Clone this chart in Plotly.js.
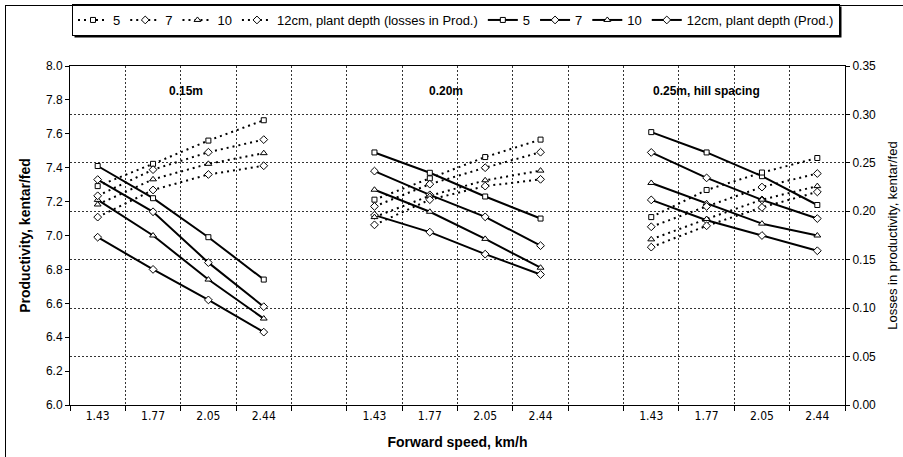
<!DOCTYPE html>
<html>
<head>
<meta charset="utf-8">
<script src="https://cdn.plot.ly/plotly-3.0.1.min.js"></script>
<style>
  html, body { margin: 0; padding: 0; background: #fff; }
  #chart { width: 903px; height: 457px; }
  #frame { position: absolute; left: 5px; top: 5px; width: 905px; height: 460px; border: 1px solid #000; pointer-events: none; }
</style>
</head>
<body>
<div id="chart"></div>
<div id="frame"></div>
<script>
// ---- data ----
const speeds = ["1.43", "1.77", "2.05", "2.44"];
const spacings = ["0.15m", "0.20m", "0.25m, hill spacing"];
const depthNames = ["5", "7", "10", "12cm, plant depth"];

// productivity, kentar/fed (left axis) — 4 speeds × 3 hill spacings
const prod5  = [7.41, 7.22, 6.99, 6.74,  7.49, 7.37, 7.23, 7.10,  7.61, 7.49, 7.35, 7.18];
const prod7  = [7.33, 7.14, 6.84, 6.58,  7.38, 7.24, 7.11, 6.94,  7.49, 7.34, 7.21, 7.10];
const prod10 = [7.21, 7.00, 6.74, 6.51,  7.27, 7.14, 6.98, 6.81,  7.31, 7.19, 7.07, 7.00];
const prod12 = [6.99, 6.80, 6.62, 6.43,  7.12, 7.02, 6.89, 6.77,  7.21, 7.09, 7.00, 6.91];

// losses in productivity, kentar/fed (right axis)
const loss5  = [0.226, 0.249, 0.273, 0.294,  0.212, 0.234, 0.256, 0.274,  0.194, 0.222, 0.240, 0.255];
const loss7  = [0.216, 0.243, 0.261, 0.274,  0.205, 0.228, 0.245, 0.261,  0.184, 0.205, 0.225, 0.239];
const loss10 = [0.207, 0.233, 0.249, 0.260,  0.194, 0.216, 0.232, 0.242,  0.171, 0.192, 0.212, 0.226];
const loss12 = [0.194, 0.222, 0.238, 0.247,  0.186, 0.212, 0.226, 0.233,  0.163, 0.185, 0.204, 0.220];

// ---- build positions: 14 category slots (4 speeds, 1 blank, 4, 1 blank, 4) ----
const slotsPerGroup = speeds.length + 1;
const nSlots = spacings.length * slotsPerGroup - 1;
function seriesXY(vals) {
  const x = [], y = [];
  spacings.forEach((s, g) => {
    speeds.forEach((sp, i) => {
      x.push(g * slotsPerGroup + i + 0.5);
      y.push(vals[g * speeds.length + i]);
    });
    if (g < spacings.length - 1) { x.push(null); y.push(null); }
  });
  return {x, y};
}
const tickCenters = [], tickLabels = [];
spacings.forEach((s, g) => speeds.forEach((sp, i) => {
  tickCenters.push(g * slotsPerGroup + i + 0.5);
  tickLabels.push(sp);
}));
const boundaries = [];
for (let k = 0; k <= nSlots; k++) boundaries.push(k);

const symbols = ["square", "diamond", "triangle-up", "diamond"];
const sizes = [5, 6, 6, 6];
const lossSets = [loss5, loss7, loss10, loss12];
const prodSets = [prod5, prod7, prod10, prod12];

const traces = [];
lossSets.forEach((vals, k) => {
  const p = seriesXY(vals);
  traces.push({
    type: "scatter", mode: "lines+markers", x: p.x, y: p.y, yaxis: "y2",
    name: depthNames[k] + (k === 3 ? " (losses in Prod.)" : ""),
    connectgaps: false,
    line: {color: "#000", width: 2, dash: "2px,4px"},
    marker: {symbol: symbols[k], size: sizes[k], color: "#fff", line: {color: "#000", width: 1}}
  });
});
prodSets.forEach((vals, k) => {
  const p = seriesXY(vals);
  traces.push({
    type: "scatter", mode: "lines+markers", x: p.x, y: p.y, yaxis: "y",
    name: depthNames[k] + (k === 3 ? " (Prod.)" : ""),
    connectgaps: false,
    line: {color: "#000", width: 2},
    marker: {symbol: symbols[k], size: sizes[k], color: "#fff", line: {color: "#000", width: 1}}
  });
});

const gridStyle = {color: "#333", dash: "2px,2px"};
const labelFont = {family: "Liberation Sans, Arial, sans-serif", size: 12, color: "#000"};
const M = {l: 70, r: 58, t: 66, b: 52};

const layout = {
  width: 903, height: 457,
  margin: M,
  paper_bgcolor: "#fff", plot_bgcolor: "#fff",
  showlegend: true,
  legend: {
    orientation: "h", x: 72 / 903, xanchor: "left", y: 1 - 4 / 457, yanchor: "top",
    xref: "container", yref: "container",
    bordercolor: "#000", borderwidth: 1, bgcolor: "#fff",
    font: {family: "Liberation Sans, Arial, sans-serif", size: 13, color: "#000"},
    itemwidth: 30, tracegroupgap: 0
  },
  xaxis: {
    range: [0, nSlots], tickmode: "array", tickvals: tickCenters, ticktext: tickLabels,
    ticks: "", showgrid: false, zeroline: false,
    showline: true, linecolor: "#000", linewidth: 1, mirror: true,
    tickfont: {family: "Liberation Sans Narrow, Arial Narrow, DejaVu Sans Condensed, sans-serif", size: 12, color: "#000"},
    minor: {tickmode: "array", tickvals: boundaries, ticks: "outside", ticklen: 5, tickcolor: "#000",
            showgrid: true, gridcolor: gridStyle.color, griddash: gridStyle.dash, gridwidth: 1},
    title: {text: "<b>Forward speed, km/h</b>", font: {family: "Liberation Sans, Arial, sans-serif", size: 14, color: "#000"}, standoff: 14}
  },
  yaxis: {
    range: [6, 8], dtick: 0.2, tickformat: ".1f", ticks: "outside", ticklen: 4, tickcolor: "#000",
    showgrid: false, zeroline: false, showline: true, linecolor: "#000", linewidth: 1,
    tickfont: labelFont,
    title: {text: "<b>Productivity, kentar/fed</b>", font: {family: "Liberation Sans, Arial, sans-serif", size: 14, color: "#000"}, standoff: 12}
  },
  yaxis2: {
    overlaying: "y", side: "right", range: [0, 0.35], dtick: 0.05, tickformat: ".2f",
    ticks: "outside", ticklen: 4, tickcolor: "#000",
    showgrid: true, gridcolor: gridStyle.color, griddash: gridStyle.dash, gridwidth: 1,
    zeroline: false, showline: true, linecolor: "#000", linewidth: 1,
    tickfont: labelFont,
    title: {text: "Losses in productivity, kentar/fed", font: {family: "Liberation Sans, Arial, sans-serif", size: 13, color: "#000"}, standoff: 12}
  },
  annotations: spacings.map((s, g) => ({
    text: "<b>" + s + "</b>", xref: "x", yref: "paper",
    x: [1.75, 6.45, 10.5][g], y: 0.925, xanchor: "left", yanchor: "middle", showarrow: false,
    font: {family: "Liberation Sans, Arial, sans-serif", size: 12, color: "#000"}
  }))
};

Plotly.newPlot("chart", traces, layout, {displayModeBar: false, staticPlot: true}).then(gd => {
  // drop shadow behind the legend box (as in the spreadsheet legend)
  const bg = gd.querySelector(".legend .bg");
  if (!bg) return;
  const r = bg.getBoundingClientRect();
  const c = gd.getBoundingClientRect();
  const pw = 903 - M.l - M.r, ph = 457 - M.t - M.b;
  const px = v => (v - c.left - M.l) / pw;
  const py = v => 1 - (v - c.top - M.t) / ph;
  Plotly.relayout(gd, {shapes: [{
    type: "rect", xref: "paper", yref: "paper", layer: "above",
    x0: px(r.left + 2), x1: px(r.right + 2), y0: py(r.bottom + 2), y1: py(r.top + 2),
    fillcolor: "#000", line: {width: 0}
  }]});
});
</script>
</body>
</html>
